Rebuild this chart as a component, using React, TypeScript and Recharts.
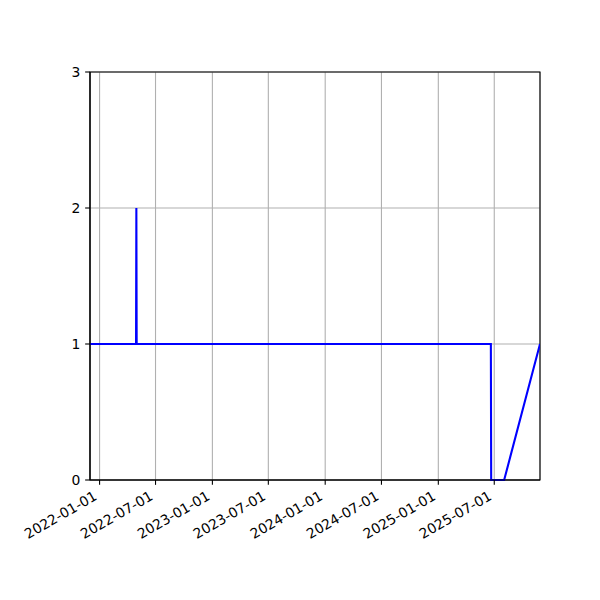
import React from 'react';
import { LineChart, Line, XAxis, YAxis, CartesianGrid, ReferenceArea } from 'recharts';

const pointDates = ['2021-12-01', '2022-04-29', '2022-04-30', '2022-05-01', '2025-06-20', '2025-06-21', '2025-08-02', '2025-11-26'];
const pointValues = [1, 1, 2, 1, 1, 0, 0, 1];
const xTickDates = ['2022-01-01', '2022-07-01', '2023-01-01', '2023-07-01', '2024-01-01', '2024-07-01', '2025-01-01', '2025-07-01'];
const yTicks = [0, 1, 2, 3];

const toTs = (d: string) => {
  const [y, m, day] = d.split('-').map(Number);
  return Date.UTC(y, m - 1, day);
};

const data = pointDates.map((d, i) => ({ t: toTs(d), v: pointValues[i] }));
const xTicks = xTickDates.map(toTs);
const xDomain = [toTs(pointDates[0]), toTs(pointDates[pointDates.length - 1])];

const FONT = 'DejaVu Sans';
const FS = 13.9;
const TICK = 4.86;
const LW = 1.1;

const fmt = (ts: number) => {
  const d = new Date(ts);
  const mm = String(d.getUTCMonth() + 1).padStart(2, '0');
  const dd = String(d.getUTCDate()).padStart(2, '0');
  return `${d.getUTCFullYear()}-${mm}-${dd}`;
};

const XTick = (props: any) => {
  const { x, y, payload } = props;
  return (
    <text
      x={0}
      y={0}
      transform={`translate(${x - 1.55},${y + 9.2}) rotate(-30)`}
      textAnchor="end"
      fontFamily={FONT}
      fontSize={FS}
      fill="#000"
    >
      {fmt(payload.value)}
    </text>
  );
};

export default function App() {
  return (
    <div style={{ position: 'absolute', left: 0, top: 0, width: 600, height: 600, background: '#fff' }}>
      <LineChart width={600} height={600} data={data} margin={{ top: 72, right: 60, bottom: 0, left: 0 }}>
        <CartesianGrid stroke="#b0b0b0" strokeWidth={LW} />
        <XAxis
          dataKey="t"
          type="number"
          domain={xDomain}
          ticks={xTicks}
          allowDataOverflow
          height={120}
          tickSize={TICK}
          tickMargin={TICK}
          interval={0}
          stroke="#000"
          strokeWidth={LW}
          tickLine={{ stroke: '#000', strokeWidth: LW }}
          axisLine={{ stroke: '#000', strokeWidth: LW }}
          tick={(p: any) => <XTick {...p} />}
        />
        <YAxis
          type="number"
          domain={[0, 3]}
          ticks={yTicks}
          width={90}
          tickSize={TICK}
          tickMargin={TICK}
          interval={0}
          stroke="#000"
          strokeWidth={LW}
          tickLine={{ stroke: '#000', strokeWidth: LW }}
          axisLine={{ stroke: '#000', strokeWidth: LW }}
          tick={{ fill: '#000', fontFamily: FONT, fontSize: FS }}
        />
        <ReferenceArea x1={xDomain[0]} x2={xDomain[1]} y1={0} y2={3} fill="none" stroke="#000" strokeWidth={LW} />
        <Line
          type="linear"
          dataKey="v"
          stroke="#0000ff"
          strokeWidth={2.08}
          dot={false}
          activeDot={false}
          isAnimationActive={false}
        />
      </LineChart>
    </div>
  );
}
